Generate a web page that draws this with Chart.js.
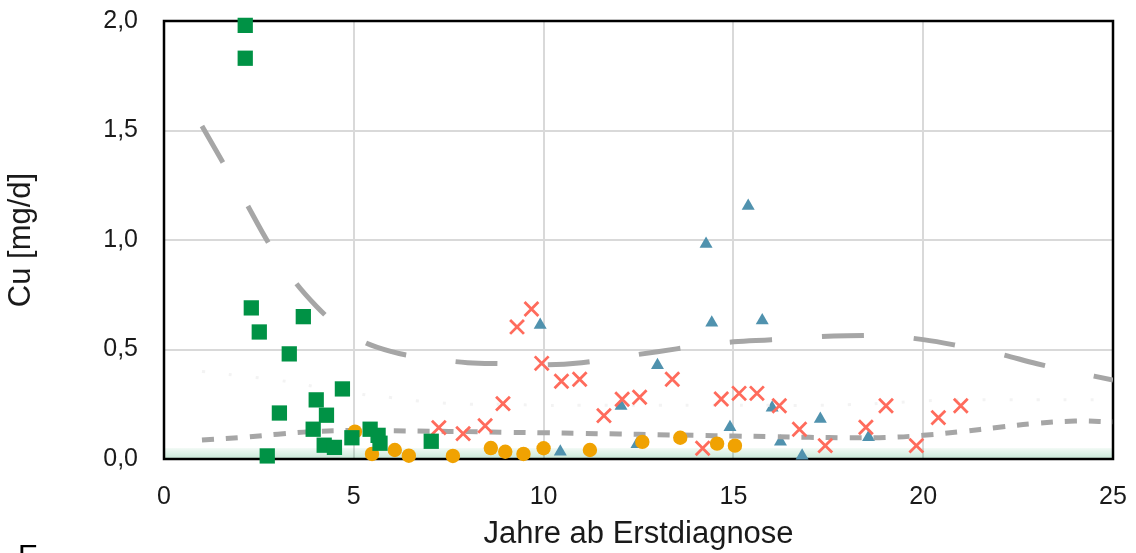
<!DOCTYPE html>
<html>
<head>
<meta charset="utf-8">
<script src="https://cdn.jsdelivr.net/npm/chart.js@4"></script>
<style>
  html, body { margin: 0; padding: 0; background: #fff; overflow: hidden; }
  #wrap { position: relative; width: 1136px; height: 553px; }
  #foot { position: absolute; left: 18px; top: 537px; font: 30px "Liberation Sans", Arial, sans-serif; line-height: 36px; color: #000; }
</style>
</head>
<body>
<div id="wrap">
  <canvas id="chart" width="1136" height="553"></canvas>
  <div id="foot">E</div>
</div>
<script>
// Quadrate (grün)
const squareX = [2.14, 2.14, 2.30, 2.51, 3.67, 3.30, 4.70, 4.01, 3.04, 4.28, 3.93, 4.22, 4.49, 2.72, 4.95, 5.43, 5.64, 5.69, 7.04];
const squareY = [1.98, 1.83, 0.69, 0.58, 0.65, 0.48, 0.32, 0.27, 0.21, 0.20, 0.136, 0.063, 0.053, 0.014, 0.097, 0.136, 0.108, 0.072, 0.081];

// Kreise (orange)
const circleX = [5.03, 5.48, 6.08, 6.45, 7.61, 8.61, 8.99, 9.47, 10.0, 11.22, 12.6, 13.6, 14.57, 15.04];
const circleY = [0.125, 0.023, 0.041, 0.015, 0.014, 0.050, 0.033, 0.023, 0.049, 0.041, 0.078, 0.097, 0.070, 0.061];

// Kreuze (rot)
const crossX = [7.24, 7.88, 8.46, 8.93, 9.30, 9.68, 9.95, 10.47, 10.95, 11.59, 12.07, 12.53, 13.39,
  14.68, 15.15, 15.62, 16.21, 14.19, 16.74, 17.42, 18.49, 19.02, 19.82, 20.40, 20.99];
const crossY = [0.143, 0.116, 0.152, 0.253, 0.603, 0.685, 0.437, 0.355, 0.364, 0.198, 0.273, 0.282, 0.364,
  0.274, 0.300, 0.300, 0.243, 0.049, 0.136, 0.061, 0.145, 0.243, 0.061, 0.189, 0.243];

// Dreiecke (blau)
const triX = [9.91, 13.0, 14.28, 15.39, 14.43, 15.76, 12.04, 10.44, 12.46, 14.91, 16.02, 16.24, 16.81, 17.29, 18.56];
const triY = [0.612, 0.428, 0.982, 1.155, 0.622, 0.632, 0.242, 0.033, 0.067, 0.145, 0.234, 0.079, 0.015, 0.183, 0.099];

// Trendlinien
const trendX = [1, 2, 3, 4, 5, 6, 7, 8, 9, 10, 11, 12, 13, 14, 15, 16, 17, 18, 19, 20, 21, 22, 23, 24, 25];
const trendLong = [1.52, 1.22, 0.92, 0.70, 0.56, 0.49, 0.46, 0.44, 0.435, 0.43, 0.44, 0.465, 0.49, 0.515, 0.535,
  0.545, 0.557, 0.563, 0.562, 0.545, 0.515, 0.48, 0.435, 0.397, 0.36];
const trendShort = [0.087, 0.098, 0.113, 0.126, 0.130, 0.129, 0.127, 0.125, 0.122, 0.120, 0.117, 0.114, 0.111,
  0.108, 0.105, 0.102, 0.099, 0.097, 0.098, 0.108, 0.125, 0.145, 0.163, 0.173, 0.170];
const trendFaint = [0.40, 0.38, 0.36, 0.33, 0.30, 0.28, 0.26, 0.25, 0.25, 0.245, 0.245, 0.245, 0.245,
  0.245, 0.245, 0.245, 0.245, 0.248, 0.255, 0.265, 0.27, 0.27, 0.27, 0.27, 0.27];

const bandTop = 0.05;

const pts = (xs, ys) => xs.map((x, i) => ({x: x, y: ys[i]}));
const fontName = '"Liberation Sans", Arial, sans-serif';

// keine automatische Randzugabe fuer ueberstehende Beschriftungen
const noPad = s => { s.paddingTop = 0; s.paddingBottom = 0; s.paddingLeft = 0; s.paddingRight = 0; };

const backgroundPlugin = {
  id: 'bandAndFrame',
  beforeDatasetsDraw(chart) {
    const {ctx, chartArea: a, scales: {y}} = chart;
    const top = y.getPixelForValue(bandTop);
    const bottom = y.getPixelForValue(0);
    const grad = ctx.createLinearGradient(0, top, 0, bottom);
    grad.addColorStop(0, 'rgba(0,150,70,0.05)');
    grad.addColorStop(1, 'rgba(0,150,70,0.22)');
    ctx.save();
    ctx.fillStyle = grad;
    ctx.fillRect(a.left, top, a.right - a.left, bottom - top);
    ctx.strokeStyle = '#000';
    ctx.lineWidth = 2.5;
    ctx.strokeRect(a.left, a.top, a.right - a.left, a.bottom - a.top);
    ctx.restore();
  }
};

new Chart(document.getElementById('chart'), {
  type: 'scatter',
  data: {
    datasets: [
      {data: pts(squareX, squareY), pointStyle: 'rect', pointRadius: 10.8, backgroundColor: '#009245', borderWidth: 0, clip: false},
      {data: pts(circleX, circleY), pointStyle: 'circle', pointRadius: 7.2, backgroundColor: '#f0a202', borderWidth: 0, clip: false},
      {data: pts(crossX, crossY), pointStyle: 'crossRot', pointRadius: 9.8, borderColor: '#ff6b5c', borderWidth: 2.8, clip: false},
      {data: pts(trendX, trendShort), showLine: true, tension: 0.4, pointRadius: 0, borderColor: '#a6a6a6', borderWidth: 5, borderDash: [12, 12], borderCapStyle: 'butt'},
      {data: pts(trendX, trendLong), showLine: true, tension: 0.4, pointRadius: 0, borderColor: '#a6a6a6', borderWidth: 5, borderDash: [42, 50], borderCapStyle: 'butt'},
      {data: pts(trendX, trendFaint), showLine: true, tension: 0.4, pointRadius: 0, borderColor: '#f3f3f3', borderWidth: 3, borderDash: [3, 24], borderCapStyle: 'butt'},
      {data: pts(triX, triY), pointStyle: 'triangle', pointRadius: 7.5, backgroundColor: '#5092ae', borderWidth: 0, clip: false}
    ]
  },
  options: {
    responsive: false,
    animation: false,
    events: [],
    layout: {padding: {top: 21, right: 23, left: 0, bottom: 0}},
    plugins: {legend: {display: false}, tooltip: {enabled: false}},
    scales: {
      x: {
        type: 'linear', min: 0, max: 25,
        afterFit: s => { s.height = 94; noPad(s); },
        ticks: {stepSize: 5, padding: 23, color: '#1a1a1a', font: {family: fontName, size: 25}},
        grid: {color: '#d9d9d9', lineWidth: 2, drawTicks: false},
        border: {display: false},
        title: {display: true, text: 'Jahre ab Erstdiagnose', color: '#1a1a1a', font: {family: fontName, size: 31}, padding: {top: 0, bottom: 0}}
      },
      y: {
        type: 'linear', min: 0, max: 2,
        afterFit: s => { s.width = 164; noPad(s); },
        ticks: {stepSize: 0.5, padding: 26, color: '#1a1a1a', font: {family: fontName, size: 25},
          callback: v => v.toFixed(1).replace('.', ',')},
        grid: {color: '#d9d9d9', lineWidth: 2, drawTicks: false},
        border: {display: false},
        title: {display: true, text: 'Cu [mg/d]', color: '#1a1a1a', font: {family: fontName, size: 31}, padding: {top: 3, bottom: 0}}
      }
    }
  },
  plugins: [backgroundPlugin]
});
</script>
</body>
</html>
